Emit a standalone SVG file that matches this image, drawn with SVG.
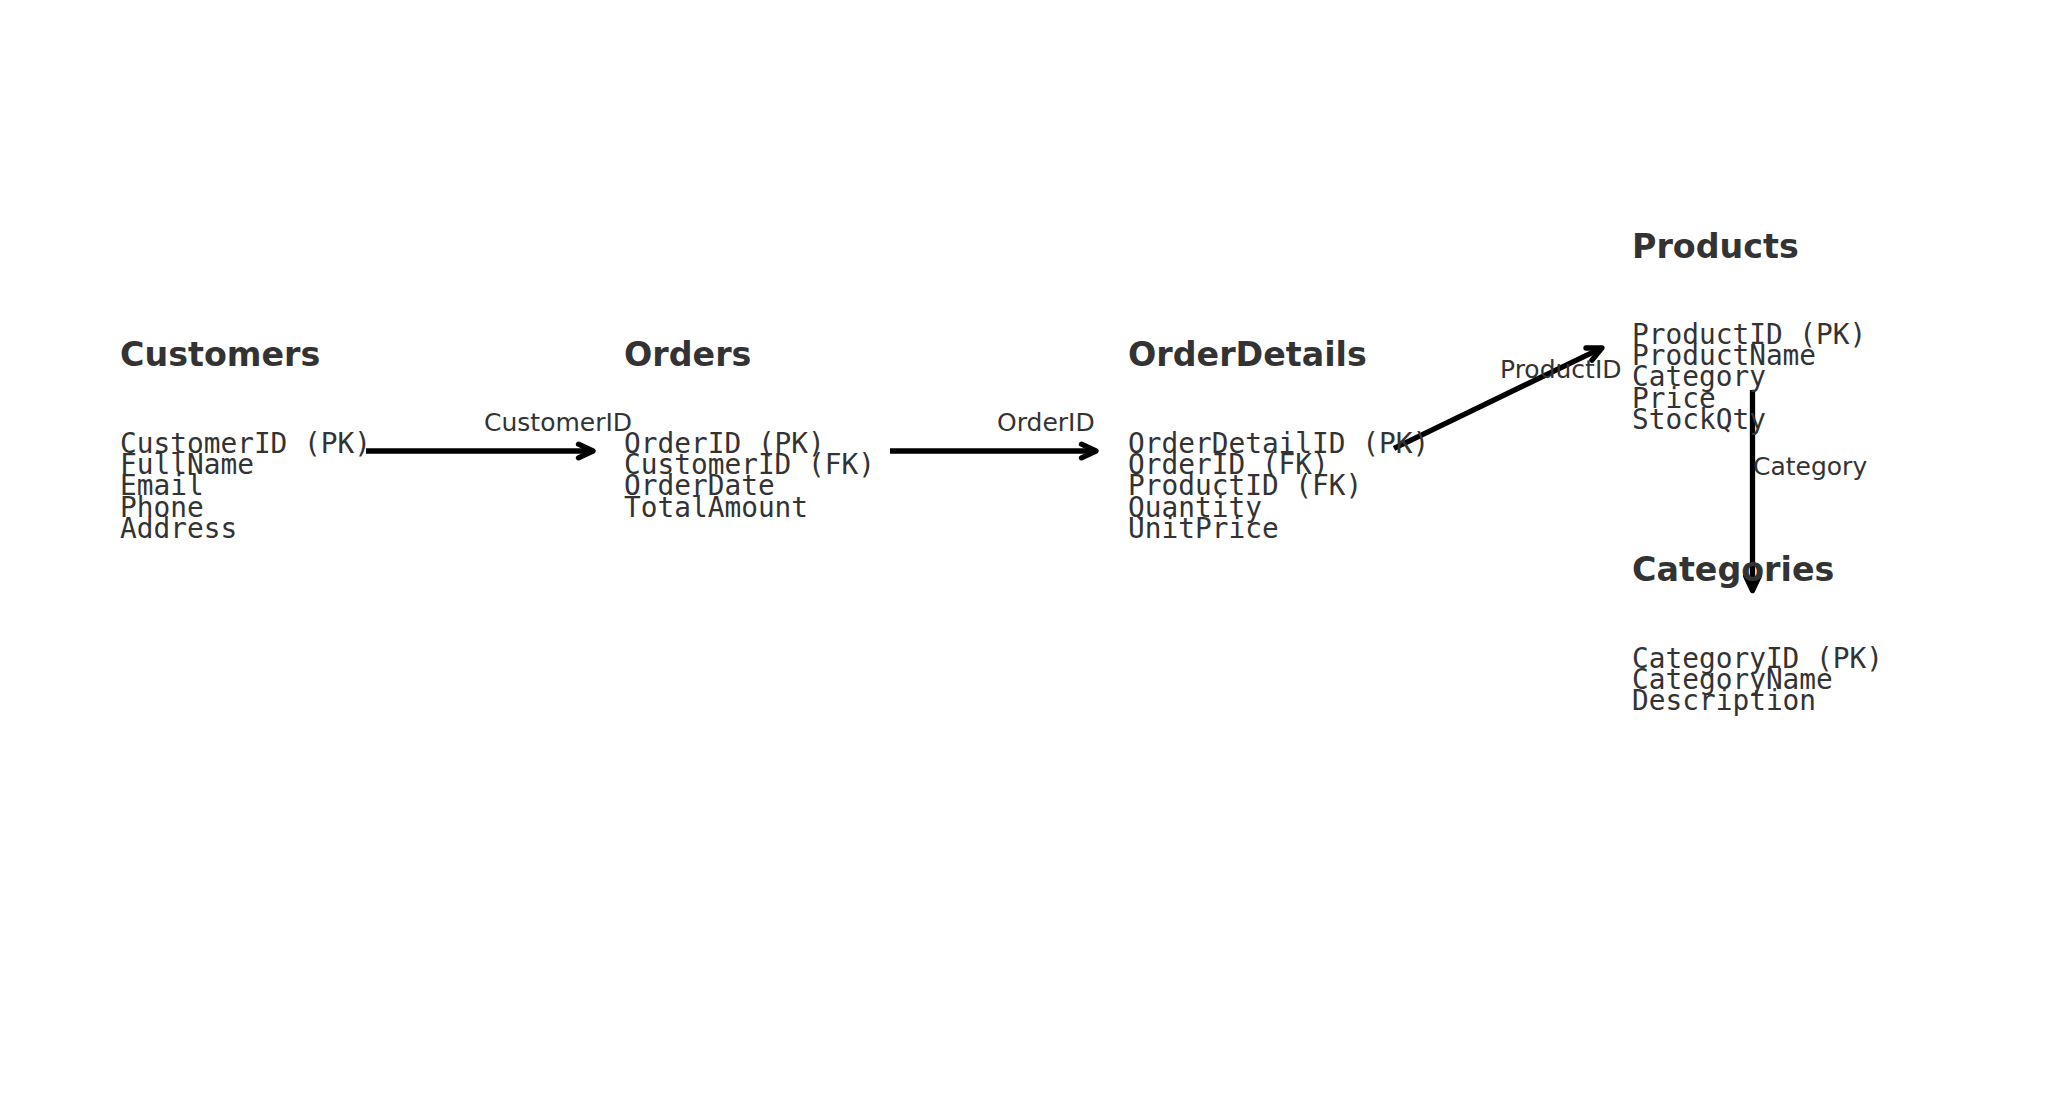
<svg xmlns="http://www.w3.org/2000/svg" width="2055" height="1118" viewBox="0 0 2055 1118">
  <style>
    .title { font-family: "DejaVu Sans", "Liberation Sans", sans-serif; font-weight: bold; font-size: 33.3px; fill: #333333; }
    .field { font-family: "DejaVu Sans Mono", "Liberation Mono", monospace; font-size: 27.8px; fill: #333333; }
    .label { font-family: "DejaVu Sans", "Liberation Sans", sans-serif; font-size: 25px; fill: #333333; }
    .edge { stroke: #000000; stroke-width: 5.3; fill: none; marker-end: url(#arrow); }
  </style>
  <defs>
    <marker id="arrow" markerUnits="userSpaceOnUse" viewBox="-22 -14 30 28" refX="0" refY="0" markerWidth="30" markerHeight="28" orient="auto" overflow="visible">
      <path d="M-14.5,-6.8 L0,0 L-14.5,6.8" fill="none" stroke="#000000" stroke-width="5.3" stroke-linecap="round" stroke-linejoin="round"/>
    </marker>
  </defs>
  <rect width="2055" height="1118" fill="#ffffff"/>

  <g id="connectors">
    <line class="edge" x1="366" y1="451" x2="593" y2="451"/>
    <line class="edge" x1="890" y1="451" x2="1096" y2="451"/>
    <line class="edge" x1="1394" y1="448.3" x2="1602" y2="347.8"/>
    <line class="edge" x1="1752.5" y1="390" x2="1752.5" y2="590.5"/>
    <text class="label" x="484" y="430.5">CustomerID</text>
    <text class="label" x="997" y="430.5">OrderID</text>
    <text class="label" x="1500" y="377.5">ProductID</text>
    <text class="label" x="1753" y="474.5">Category</text>
  </g>

  <g id="customers">
    <text class="title" x="120" y="365.5">Customers</text>
    <text class="field" x="120" y="453">CustomerID (PK)</text>
    <text class="field" x="120" y="474.2">FullName</text>
    <text class="field" x="120" y="495.4">Email</text>
    <text class="field" x="120" y="516.6">Phone</text>
    <text class="field" x="120" y="537.8">Address</text>
  </g>

  <g id="orders">
    <text class="title" x="624" y="365.5">Orders</text>
    <text class="field" x="624" y="453">OrderID (PK)</text>
    <text class="field" x="624" y="474.2">CustomerID (FK)</text>
    <text class="field" x="624" y="495.4">OrderDate</text>
    <text class="field" x="624" y="516.6">TotalAmount</text>
  </g>

  <g id="orderdetails">
    <text class="title" x="1128" y="365.5">OrderDetails</text>
    <text class="field" x="1128" y="453">OrderDetailID (PK)</text>
    <text class="field" x="1128" y="474.2">OrderID (FK)</text>
    <text class="field" x="1128" y="495.4">ProductID (FK)</text>
    <text class="field" x="1128" y="516.6">Quantity</text>
    <text class="field" x="1128" y="537.8">UnitPrice</text>
  </g>

  <g id="products">
    <text class="title" x="1632" y="258">Products</text>
    <text class="field" x="1632" y="344">ProductID (PK)</text>
    <text class="field" x="1632" y="365.2">ProductName</text>
    <text class="field" x="1632" y="386.4">Category</text>
    <text class="field" x="1632" y="407.6">Price</text>
    <text class="field" x="1632" y="428.8">StockQty</text>
  </g>

  <g id="categories">
    <text class="title" x="1632" y="581">Categories</text>
    <text class="field" x="1632" y="668">CategoryID (PK)</text>
    <text class="field" x="1632" y="689.2">CategoryName</text>
    <text class="field" x="1632" y="710.4">Description</text>
  </g>
</svg>
